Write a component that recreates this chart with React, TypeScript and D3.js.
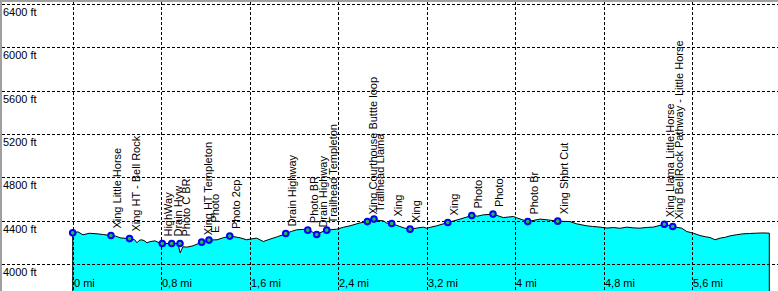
import React from "react";
import * as d3 from "d3";

const profileDist = [0, 0.048, 0.093, 0.15, 0.22, 0.28, 0.346, 0.39, 0.428, 0.518, 0.56, 0.581, 0.6, 0.618, 0.645, 0.672, 0.7, 0.744, 0.799, 0.895, 0.952, 0.971, 0.997, 1.033, 1.088, 1.166, 1.232, 1.305, 1.36, 1.42, 1.449, 1.513, 1.573, 1.603, 1.664, 1.723, 1.784, 1.85, 1.901, 1.926, 1.98, 2.025, 2.08, 2.125, 2.164, 2.206, 2.254, 2.297, 2.387, 2.45, 2.507, 2.598, 2.664, 2.724, 2.77, 2.808, 2.839, 2.884, 2.959, 3.0, 3.05, 3.122, 3.17, 3.201, 3.291, 3.391, 3.502, 3.608, 3.66, 3.712, 3.8, 3.893, 3.984, 4.014, 4.114, 4.225, 4.3, 4.385, 4.496, 4.557, 4.647, 4.7, 4.768, 4.83, 4.888, 4.95, 5.009, 5.07, 5.129, 5.19, 5.25, 5.349, 5.425, 5.506, 5.552, 5.611, 5.672, 5.72, 5.762, 5.79, 5.807, 5.853, 5.9, 5.943, 6.0, 6.061, 6.12, 6.184, 6.24, 6.298];
const profileElev = [4286, 4295, 4268, 4282, 4277, 4270, 4261, 4255, 4240, 4231, 4222, 4194, 4215, 4222, 4215, 4194, 4205, 4212, 4187, 4187, 4187, 4101, 4157, 4154, 4166, 4200, 4219, 4222, 4240, 4256, 4252, 4240, 4222, 4228, 4237, 4206, 4228, 4250, 4268, 4280, 4300, 4314, 4318, 4311, 4295, 4270, 4295, 4311, 4320, 4338, 4351, 4378, 4390, 4413, 4400, 4397, 4376, 4372, 4344, 4330, 4320, 4332, 4338, 4329, 4351, 4381, 4413, 4446, 4440, 4452, 4459, 4427, 4437, 4425, 4390, 4413, 4405, 4394, 4390, 4369, 4351, 4345, 4339, 4330, 4335, 4328, 4339, 4332, 4329, 4336, 4339, 4366, 4344, 4329, 4298, 4283, 4261, 4250, 4243, 4230, 4222, 4237, 4245, 4258, 4268, 4277, 4280, 4283, 4285, 4283];

const wpNames = ["", "Xing Little Horse", "Xing HT - Bell Rock", "HighWay", "Drain Hyw", "Photo C BR", "Xing HT Templeton", "E Photo", "Photo 2cp", "Drain Highway", "Photo BR", "Drain Highway", "Trailhead Templeton", "Xing Courthouse Buttte loop", "Trailhead Llama", "Xing", "Xing", "Xing", "Photo", "Photo", "Photo Br", "Xing Shbrt Cut", "Xing Llama Little Horse", "Xing BellRock Pathway - Little Horse"];
const wpDist = [0, 0.346, 0.514, 0.81, 0.895, 0.97, 1.166, 1.232, 1.42, 1.926, 2.125, 2.206, 2.297, 2.664, 2.724, 2.884, 3.05, 3.391, 3.608, 3.8, 4.114, 4.385, 5.349, 5.425];
const wpElev = [4286, 4261, 4233, 4187, 4187, 4187, 4200, 4219, 4256, 4280, 4311, 4270, 4311, 4390, 4413, 4372, 4320, 4381, 4446, 4459, 4390, 4394, 4366, 4344];

const xTicks = [0, 0.8, 1.6, 2.4, 3.2, 4.0, 4.8, 5.6];
const xTickLabels = ["0 mi", "0,8 mi", "1,6 mi", "2,4 mi", "3,2 mi", "4 mi", "4,8 mi", "5,6 mi"];
const yTicks = [4000, 4400, 4800, 5200, 5600, 6000, 6400];
const yTickLabels = ["4000 ft", "4400 ft", "4800 ft", "5200 ft", "5600 ft", "6000 ft", "6400 ft"];

const W = 778;
const H = 291;

export default function App() {
  const x = d3.scaleLinear().domain([0, 6.298]).range([72.7, 769.3]);
  const y = d3.scaleLinear().domain([4000, 6400]).range([263.8, 4]);
  const pts: [number, number][] = profileDist.map((d, i) => [d, profileElev[i]]);
  const area = d3
    .area<[number, number]>()
    .x((p) => x(p[0]))
    .y0(H + 2)
    .y1((p) => y(p[1]));
  const areaPath = area(pts) as string;
  const font = "'Liberation Sans', Arial, sans-serif";
  return (
    <svg width={W} height={H} style={{ position: "absolute", left: 0, top: 0, background: "#fff" }} fontFamily={font} fontSize={11}>
      <rect x={0} y={0} width={W} height={H} fill="#fff" />
      <path d={areaPath} fill="#00ffff" stroke="#000" strokeWidth={1} />
      {yTicks.map((t) => (
        <line key={"hy" + t} x1={2} x2={W} y1={Math.round(y(t)) + 0.5} y2={Math.round(y(t)) + 0.5} stroke="#000" strokeDasharray="3,2" />
      ))}
      {xTicks.map((t) => (
        <line key={"vx" + t} x1={Math.round(x(t)) + 0.5} x2={Math.round(x(t)) + 0.5} y1={2} y2={H} stroke="#000" strokeDasharray="3,2" />
      ))}
      {yTicks.map((t, i) => (
        <text key={"yl" + t} x={3} y={Math.round(y(t)) + 11.5} fill="#000">
          {yTickLabels[i]}
        </text>
      ))}
      {xTicks.map((t, i) => (
        <text key={"xl" + t} x={Math.round(x(t)) + 1} y={287} fill="#000">
          {xTickLabels[i]}
        </text>
      ))}
      {wpDist.map((d, i) => {
        const cx = x(d);
        const cy = y(wpElev[i]);
        return (
          <g key={"wp" + i}>
            <circle cx={cx} cy={cy} r={2.8} fill="#20c040" stroke="#0000ff" strokeWidth={2} />
            {wpNames[i] ? (
              <text transform={`translate(${cx + 10},${cy - 7}) rotate(-90)`} fill="#000">
                {wpNames[i]}
              </text>
            ) : null}
          </g>
        );
      })}
      <rect x={0} y={0} width={W} height={2} fill="#a0a0a0" />
      <rect x={0} y={0} width={2} height={H} fill="#a0a0a0" />
    </svg>
  );
}
